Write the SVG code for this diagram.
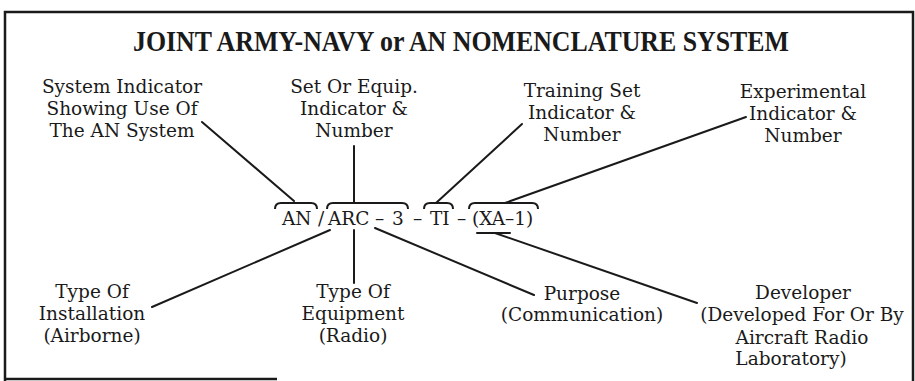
<svg xmlns="http://www.w3.org/2000/svg" width="915" height="381" viewBox="0 0 915 381">
<style>
.lbl{font-family:"DejaVu Serif","Liberation Serif",serif;font-size:18.5px;fill:#1a1a1a;text-anchor:middle}
.code{font-family:"DejaVu Serif","Liberation Serif",serif;font-size:18.5px;fill:#1a1a1a}
.ttl{font-family:"Liberation Serif","DejaVu Serif",serif;font-size:29px;font-weight:bold;fill:#1a1a1a;text-anchor:middle}
.ln{stroke:#1a1a1a;stroke-width:2;fill:none;stroke-linecap:round}
.brace{stroke:#1a1a1a;stroke-width:2;fill:none}
.frame{stroke:#1a1a1a;stroke-width:2.5;fill:none}
</style>
<rect width="915" height="381" fill="#ffffff"/>
<g id="frame">
<path class="frame" d="M5,381 L5,12 L913,12 L913,381"/>
<path class="frame" d="M5,379 L277,379"/>
</g>
<g id="title">
<text class="ttl" x="461" y="51" textLength="656" lengthAdjust="spacingAndGlyphs">JOINT ARMY-NAVY or AN NOMENCLATURE SYSTEM</text>
</g>
<g id="code">
<text class="code" y="225"><tspan x="282">AN</tspan><tspan x="318">/</tspan><tspan x="328">ARC</tspan><tspan x="375">–</tspan><tspan x="392">3</tspan><tspan x="413">–</tspan><tspan x="430">TI</tspan><tspan x="457">–</tspan><tspan x="472">(XA–1)</tspan></text>
<path class="brace" d="M275,209 Q275,203 281,203 L311,203 Q317,203 317,209"/>
<path class="brace" d="M327,209 Q327,203 333,203 L402,203 Q408,203 408,209"/>
<path class="brace" d="M424,209 Q424,203 430,203 L447,203 Q453,203 453,209"/>
<path class="brace" d="M469,209 Q469,203 475,203 L532,203 Q538,203 538,209"/>
<path class="ln" d="M477,233 L510,233"/>
</g>
<g id="connectors">
<path class="ln" d="M202,122 L294,201"/>
<path class="ln" d="M354,146 L354,203"/>
<path class="ln" d="M522,124 L436,203"/>
<path class="ln" d="M746,117 L505,203"/>
<path class="ln" d="M152,307 L330,230"/>
<path class="ln" d="M354,230 L354,283"/>
<path class="ln" d="M375,228 L534,295"/>
<path class="ln" d="M495,233 L697,303"/>
</g>
<g id="node-system">
<text class="lbl" x="122" y="93">System Indicator</text>
<text class="lbl" x="122" y="115">Showing Use Of</text>
<text class="lbl" x="122" y="137">The AN System</text>
</g>
<g id="node-set">
<text class="lbl" x="354" y="93">Set Or Equip.</text>
<text class="lbl" x="354" y="115">Indicator &amp;</text>
<text class="lbl" x="354" y="137">Number</text>
</g>
<g id="node-training">
<text class="lbl" x="582" y="97">Training Set</text>
<text class="lbl" x="582" y="119">Indicator &amp;</text>
<text class="lbl" x="582" y="141">Number</text>
</g>
<g id="node-experimental">
<text class="lbl" x="803" y="98">Experimental</text>
<text class="lbl" x="803" y="120">Indicator &amp;</text>
<text class="lbl" x="803" y="142">Number</text>
</g>
<g id="node-installation">
<text class="lbl" x="92" y="298">Type Of</text>
<text class="lbl" x="92" y="320">Installation</text>
<text class="lbl" x="92" y="342">(Airborne)</text>
</g>
<g id="node-equipment">
<text class="lbl" x="353" y="298">Type Of</text>
<text class="lbl" x="353" y="320">Equipment</text>
<text class="lbl" x="353" y="342">(Radio)</text>
</g>
<g id="node-purpose">
<text class="lbl" x="582" y="300">Purpose</text>
<text class="lbl" x="582" y="321">(Communication)</text>
</g>
<g id="node-developer">
<text class="lbl" x="803" y="299">Developer</text>
<text class="lbl" x="802" y="321">(Developed For Or By</text>
<text class="lbl" x="802" y="344">Aircraft Radio</text>
<text class="lbl" x="791" y="365">Laboratory)</text>
</g>
</svg>
